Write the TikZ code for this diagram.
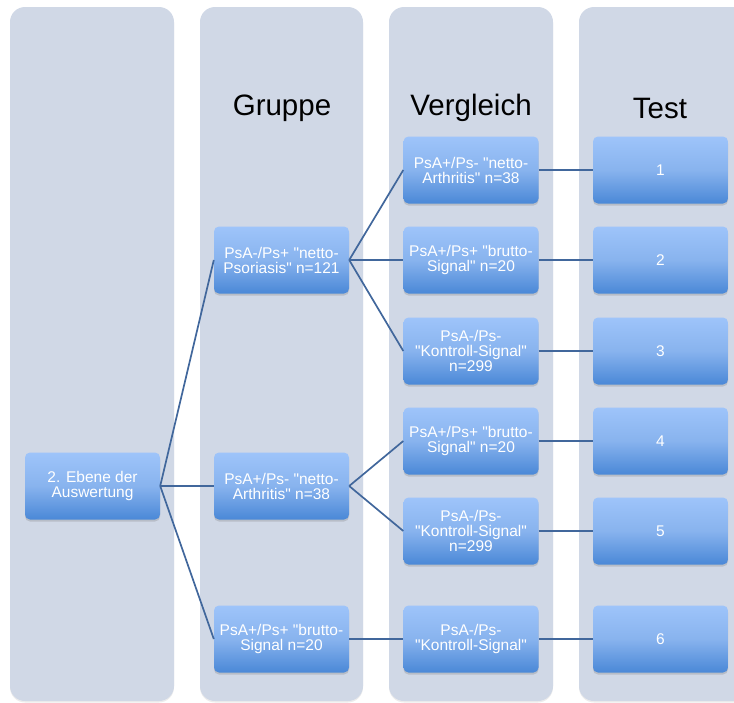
\documentclass[tikz,border=0pt]{standalone}
\usepackage{fontspec}
\setmainfont{Liberation Sans}[Ligatures=TeXOff]
\usetikzlibrary{shadows}
\definecolor{colbg}{HTML}{D0D8E6}
\definecolor{boxtop}{HTML}{9EC4FA}
\definecolor{boxmid}{HTML}{88B3EE}
\definecolor{boxbot}{HTML}{4A88D7}
\definecolor{linkcol}{HTML}{41679C}

\begin{document}
\begin{tikzpicture}[x=1pt,y=-1pt,
  column/.style={fill=colbg, rounded corners=15pt,
    drop shadow={opacity=0.15, shadow xshift=0pt, shadow yshift=-1.5pt}},
  head/.style={font=\fontsize{29.5}{32}\selectfont},
  box/.style={rounded corners=5pt, minimum width=135pt, minimum height=67pt,
    inner sep=1pt, top color=boxtop, bottom color=boxbot, middle color=boxmid,
    text=white, align=center, font=\fontsize{15.5}{15}\selectfont,
    drop shadow={opacity=0.3, shadow xshift=0pt, shadow yshift=-2pt}},
  link/.style={draw=linkcol, line width=1.7pt}]
\useasboundingbox (0,0) rectangle (734,702);

\fill [column] (10,7) rectangle (174,701);
\fill [column] (200,7) rectangle (363,701);
\fill [column] (389,7) rectangle (553,701);
\fill [column] (579,7) rectangle (760,701);

\node [head] (hgruppe) at (282,108) {Gruppe};
\node [head] (hvergleich) at (471,108) {Vergleich};
\node [head] (htest) at (660,108) {Test};

\node [box] (ebene) at (92.5,486) {2. Ebene der\\Auswertung};

\node [box] (g1) at (281.5,260) {PsA-/Ps+ "netto-\\Psoriasis" n=121};
\node [box] (g2) at (281.5,486) {PsA+/Ps- "netto-\\Arthritis" n=38};
\node [box] (g3) at (281.5,639) {PsA+/Ps+ "brutto-\\Signal n=20};

\node [box] (v1) at (471,170) {PsA+/Ps- "netto-\\Arthritis" n=38};
\node [box] (v2) at (471,260) {PsA+/Ps+ "brutto-\\Signal" n=20};
\node [box] (v3) at (471,351) {PsA-/Ps-\\"Kontroll-Signal"\\n=299};
\node [box] (v4) at (471,441) {PsA+/Ps+ "brutto-\\Signal" n=20};
\node [box] (v5) at (471,531) {PsA-/Ps-\\"Kontroll-Signal"\\n=299};
\node [box] (v6) at (471,639) {PsA-/Ps-\\"Kontroll-Signal"};

\foreach \i/\y in {1/170,2/260,3/351,4/441,5/531,6/639}
  \node [box] (t\i) at (660.5,\y) {\i};

\draw [link] (ebene.east) -- (g1.west);
\draw [link] (ebene.east) -- (g2.west);
\draw [link] (ebene.east) -- (g3.west);

\draw [link] (g1.east) -- (v1.west);
\draw [link] (g1.east) -- (v2.west);
\draw [link] (g1.east) -- (v3.west);
\draw [link] (g2.east) -- (v4.west);
\draw [link] (g2.east) -- (v5.west);
\draw [link] (g3.east) -- (v6.west);

\foreach \i in {1,...,6}
  \draw [link] (v\i.east) -- (t\i.west);
\end{tikzpicture}
\end{document}
